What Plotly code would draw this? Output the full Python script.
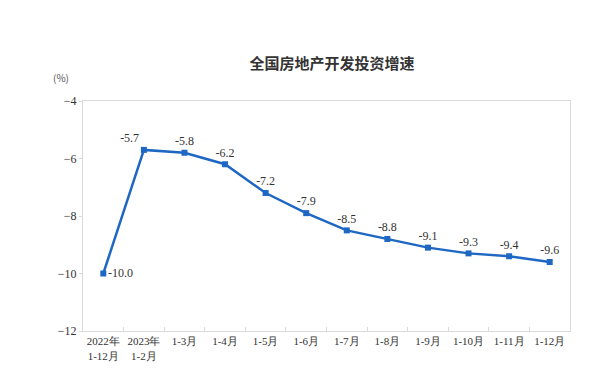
import plotly.graph_objects as go

categories = ["2022年<br>1-12月", "2023年<br>1-2月", "1-3月", "1-4月", "1-5月", "1-6月",
              "1-7月", "1-8月", "1-9月", "1-10月", "1-11月", "1-12月"]
values = [-10.0, -5.7, -5.8, -6.2, -7.2, -7.9, -8.5, -8.8, -9.1, -9.3, -9.4, -9.6]
label_positions = ["middle right", "top left", "top center", "top center", "top center", "top center",
                   "top center", "top center", "top center", "top center", "top center", "top center"]
y_ticks = [-12, -10, -8, -6, -4]

blue = "#1E67C3"
axis_col = "#d9d9d9"
serif = "Times New Roman, Liberation Serif, DejaVu Serif, serif"

fig = go.Figure()
fig.add_trace(go.Scatter(
    x=categories, y=values,
    mode="lines+markers+text",
    line=dict(color=blue, width=2.5),
    marker=dict(symbol="square", size=6, color=blue),
    text=[f"{v:.1f}" for v in values],
    textposition=label_positions,
    textfont=dict(family=serif, size=12, color="#333333"),
    cliponaxis=False,
    showlegend=False,
))

fig.update_layout(
    width=600, height=386,
    margin=dict(l=75, r=38, t=93, b=63),
    paper_bgcolor="white", plot_bgcolor="white",
    font=dict(family=serif),
    title=dict(text="<b>全国房地产开发投资增速</b>",
               font=dict(family="Noto Sans CJK SC", size=15, color="#333333"),
               x=0.54, xanchor="center", y=0.855, yanchor="middle"),
    annotations=[dict(text="(%)", xref="paper", yref="paper", x=-0.045, y=1.1,
                      xanchor="center", yanchor="middle", showarrow=False,
                      font=dict(family="Noto Sans CJK SC", size=10, color="#555555"))],
)
fig.update_xaxes(
    type="category", range=[-0.5, 11.5], showgrid=False, showline=True, linecolor=axis_col,
    linewidth=1, mirror=True, ticks="inside", ticklen=4, tickcolor=axis_col, tickson="boundaries",
    tickangle=0, automargin=False,
    tickfont=dict(family=serif, size=11, color="#333333"),
)
fig.update_yaxes(
    range=[-12, -4], tickvals=y_ticks, showgrid=False, zeroline=False, showline=True,
    linecolor=axis_col, linewidth=1, mirror=True, ticks="outside", ticklen=3,
    tickcolor=axis_col, tickfont=dict(family=serif, size=12, color="#333333"),
)

fig.write_html("out.html")
